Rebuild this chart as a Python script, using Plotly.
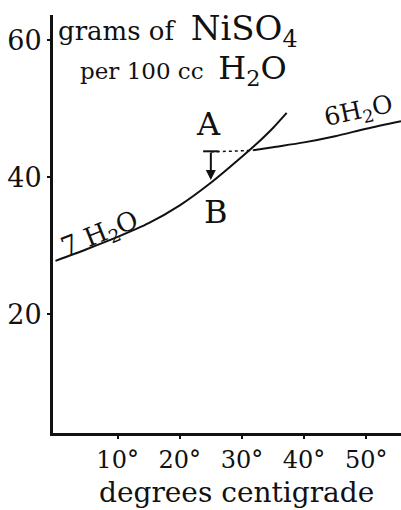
import plotly.graph_objects as go

# solubility of NiSO4, grams per 100 cc water
hepta_temp = [0, 5, 10, 15, 20, 25, 30, 32.5, 35, 37.2]
hepta_sol = [27.8, 29.5, 31.3, 33.3, 35.9, 39.2, 43.0, 45.0, 47.2, 49.4]

hexa_dot_temp = [25, 28, 31.8]
hexa_dot_sol = [43.7, 43.8, 43.95]

hexa_temp = [31.8, 35, 40, 45, 50, 55.6]
hexa_sol = [43.95, 44.4, 45.1, 46.0, 47.1, 48.2]

# A (hexahydrate, metastable) and B (heptahydrate) at 25 degrees
ab_temp = 25
a_sol = 43.8
b_sol = 39.6

x_ticks = [10, 20, 30, 40, 50]
x_tick_text = ["10°", "20°", "30°", "40°", "50°"]
y_ticks = [20, 40, 60]

FONT = "DejaVu Serif"
INK = "#111111"

fig = go.Figure()

fig.add_trace(go.Scatter(
    x=hepta_temp, y=hepta_sol, mode="lines",
    line=dict(color=INK, width=2, shape="spline", smoothing=0.8),
    cliponaxis=False, hoverinfo="skip",
))
fig.add_trace(go.Scatter(
    x=hexa_dot_temp, y=hexa_dot_sol, mode="lines",
    line=dict(color=INK, width=1.5, dash="dot"),
    hoverinfo="skip",
))
fig.add_trace(go.Scatter(
    x=hexa_temp, y=hexa_sol, mode="lines",
    line=dict(color=INK, width=2, shape="spline", smoothing=0.8),
    cliponaxis=False, hoverinfo="skip",
))
# cap on top of the A-B bar
fig.add_trace(go.Scatter(
    x=[ab_temp], y=[a_sol], mode="markers",
    marker=dict(symbol="line-ew", size=11, line=dict(color=INK, width=2)),
    hoverinfo="skip",
))

fig.add_annotation(
    x=ab_temp, y=b_sol, ax=ab_temp, ay=a_sol, xref="x", yref="y",
    axref="x", ayref="y", text="", showarrow=True,
    arrowhead=2, arrowsize=1, arrowwidth=2, arrowcolor=INK,
)

labels = [
    dict(x=24.7, y=47.8, text="A", size=32, angle=0),
    dict(x=25.8, y=34.9, text="B", size=32, angle=0),
    dict(x=7.2, y=31.6, text="7 H<sub>2</sub>O", size=26, angle=-22),
    dict(x=48.7, y=49.6, text="6H<sub>2</sub>O", size=25, angle=-12),
]
for lab in labels:
    fig.add_annotation(
        x=lab["x"], y=lab["y"], text=lab["text"], showarrow=False,
        textangle=lab["angle"], font=dict(family=FONT, size=lab["size"], color=INK),
    )

fig.add_annotation(
    x=0.1, y=61.4, xanchor="left", text="grams of  <span style='font-size:34px'>NiSO<sub>4</sub></span>",
    showarrow=False, font=dict(family=FONT, size=26, color=INK),
)
fig.add_annotation(
    x=3.6, y=55.6, xanchor="left", text="per 100 cc  <span style='font-size:32px'>H<sub>2</sub>O</span>",
    showarrow=False, font=dict(family=FONT, size=23, color=INK),
)
fig.add_annotation(
    x=0.526, y=-0.1435, xref="paper", yref="paper", yanchor="middle",
    text="degrees centigrade", showarrow=False,
    font=dict(family=FONT, size=28, color=INK),
)

fig.update_layout(
    width=401, height=510,
    margin=dict(l=53, r=0, t=15, b=77),
    paper_bgcolor="white", plot_bgcolor="white",
    showlegend=False,
)
fig.update_xaxes(
    range=[-0.4, 55.6], showgrid=False, zeroline=False, automargin=False,
    showline=True, linewidth=3, linecolor=INK,
    ticks="outside", ticklen=3, tickwidth=2, tickcolor=INK,
    tickvals=x_ticks, ticktext=x_tick_text,
    tickfont=dict(family=FONT, size=24, color=INK),
)
fig.update_yaxes(
    range=[2.67, 63.7], showgrid=False, zeroline=False, automargin=False,
    showline=True, linewidth=3, linecolor=INK,
    ticks="outside", ticklen=3, tickwidth=2, tickcolor=INK,
    tickvals=y_ticks,
    tickfont=dict(family=FONT, size=27, color=INK),
)

# drop the default page margin and scrollbars so the figure fills the window
fig.write_html(
    "out.html",
    config=dict(displayModeBar=False),
    post_script="document.documentElement.style.overflow='hidden';"
                "document.body.style.margin='0';document.body.style.overflow='hidden';",
)
